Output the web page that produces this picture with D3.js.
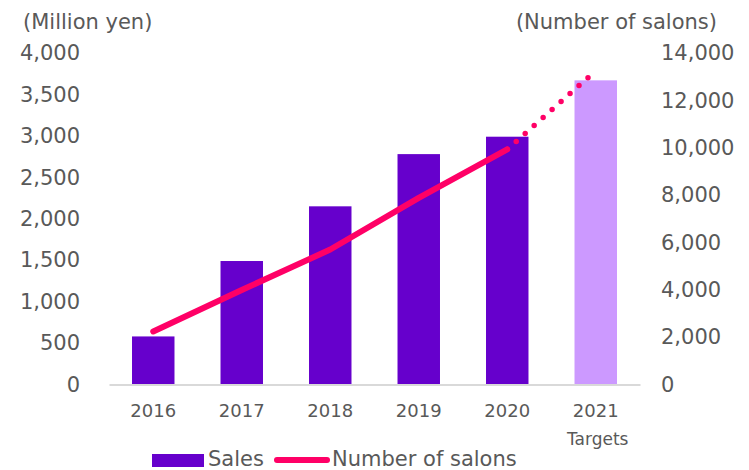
<!DOCTYPE html>
<html lang="en">
<head>
  <meta charset="UTF-8">
  <title>Sales and Number of salons</title>
  <script src="https://d3js.org/d3.v7.min.js"></script>
  <style>
    body { margin: 0; background: #fff; }
    text { font-family: "DejaVu Sans", Verdana, sans-serif; fill: #595959; }
  </style>
</head>
<body>
  <div id="chart"></div>

  <script>
    // Chart data
    const years = ['2016', '2017', '2018', '2019', '2020', '2021'];
    const sales = [580, 1490, 2150, 2780, 2990, 3670];       // million yen
    const salons = [2240, 3990, 5700, 7880, 9930, 13250];    // number of salons
    const salesTicks = [0, 500, 1000, 1500, 2000, 2500, 3000, 3500, 4000];
    const salonTicks = [0, 2000, 4000, 6000, 8000, 10000, 12000, 14000];
    const targetYear = '2021';

    const width = 749;
    const height = 470;
    const margin = { top: 53, right: 109, bottom: 85.5, left: 109 };

    const svg = d3.select('#chart')
      .append('svg')
      .attr('width', width)
      .attr('height', height);

    const x = d3.scaleBand()
      .domain(years)
      .range([margin.left, width - margin.right])
      .paddingInner(0.52)
      .paddingOuter(0.26);

    const yLeft = d3.scaleLinear()
      .domain([0, 4000])
      .range([height - margin.bottom, margin.top]);

    const yRight = d3.scaleLinear()
      .domain([0, 14000])
      .range([height - margin.bottom, margin.top]);

    const fmt = d3.format(',');

    // Left axis (labels only)
    const leftAxis = svg.append('g')
      .attr('transform', 'translate(80,0)')
      .call(d3.axisLeft(yLeft).tickValues(salesTicks).tickFormat(fmt).tickSize(0).tickPadding(0));
    leftAxis.select('.domain').remove();
    leftAxis.selectAll('text').style('font-size', '21px').attr('fill', '#595959');

    // Right axis (labels only)
    const rightAxis = svg.append('g')
      .attr('transform', 'translate(661,0)')
      .call(d3.axisRight(yRight).tickValues(salonTicks).tickFormat(fmt).tickSize(0).tickPadding(0));
    rightAxis.select('.domain').remove();
    rightAxis.selectAll('text').style('font-size', '21px').attr('fill', '#595959');

    // Bars
    svg.selectAll('rect.bar')
      .data(years)
      .join('rect')
      .attr('class', 'bar')
      .attr('x', d => x(d))
      .attr('y', (d, i) => yLeft(sales[i]))
      .attr('width', x.bandwidth())
      .attr('height', (d, i) => yLeft(0) - yLeft(sales[i]))
      .attr('fill', d => d === targetYear ? '#CC99FF' : '#6600CC');

    // Bottom axis
    const bottomAxis = svg.append('g')
      .attr('transform', `translate(0,${height - margin.bottom})`)
      .call(d3.axisBottom(x).tickSize(0).tickPadding(20));
    bottomAxis.select('.domain')
      .attr('stroke', '#D9D9D9')
      .attr('stroke-width', 2);
    bottomAxis.selectAll('text')
      .style('font-size', '18px')
      .attr('fill', '#595959');

    svg.append('text')
      .attr('x', x(targetYear) + x.bandwidth() / 2 + 2)
      .attr('y', 445)
      .attr('text-anchor', 'middle')
      .style('font-size', '17px')
      .text('Targets');

    // Salons line: solid for actuals, dotted to target
    const pts = years.map((d, i) => [x(d) + x.bandwidth() / 2, yRight(salons[i])]);
    const line = d3.line();

    svg.append('path')
      .attr('d', line(pts.slice(0, 5)))
      .attr('fill', 'none')
      .attr('stroke', '#FF0066')
      .attr('stroke-width', 6)
      .attr('stroke-linecap', 'round')
      .attr('stroke-linejoin', 'round');

    svg.append('path')
      .attr('d', line(pts.slice(4)))
      .attr('fill', 'none')
      .attr('stroke', '#FF0066')
      .attr('stroke-width', 5.5)
      .attr('stroke-linecap', 'round')
      .attr('stroke-dasharray', '0 12');

    // Axis titles
    svg.append('text')
      .attr('x', 23)
      .attr('y', 29)
      .style('font-size', '21px')
      .text('(Million yen)');

    svg.append('text')
      .attr('x', 717)
      .attr('y', 29)
      .attr('text-anchor', 'end')
      .style('font-size', '21px')
      .text('(Number of salons)');

    // Legend
    const legend = svg.append('g');
    legend.append('rect')
      .attr('x', 152).attr('y', 454)
      .attr('width', 52).attr('height', 13)
      .attr('fill', '#6600CC');
    legend.append('text')
      .attr('x', 208).attr('y', 466)
      .style('font-size', '21px')
      .text('Sales');
    legend.append('line')
      .attr('x1', 277).attr('x2', 327)
      .attr('y1', 460).attr('y2', 460)
      .attr('stroke', '#FF0066')
      .attr('stroke-width', 6)
      .attr('stroke-linecap', 'round');
    legend.append('text')
      .attr('x', 332).attr('y', 466)
      .style('font-size', '21px')
      .text('Number of salons');
  </script>
</body>
</html>
